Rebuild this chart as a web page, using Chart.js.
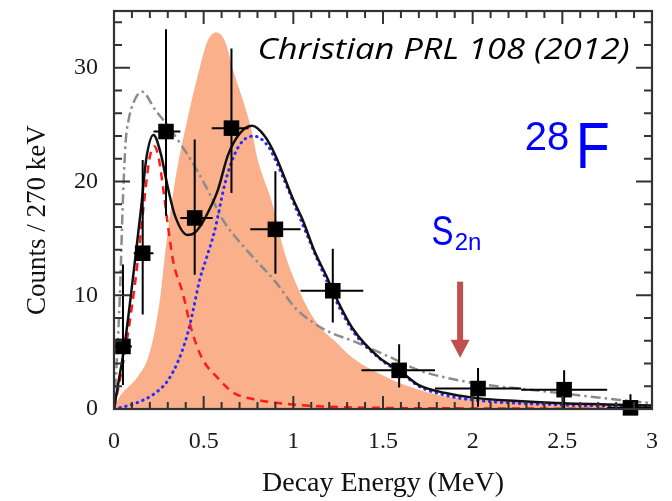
<!DOCTYPE html>
<html>
<head>
<meta charset="utf-8">
<title>28F decay energy</title>
<script src="https://cdn.jsdelivr.net/npm/chart.js@4.4.1/dist/chart.umd.min.js"></script>
<style>
  html, body { margin: 0; padding: 0; background: #fff; }
  #wrap { width: 672px; height: 501px; position: relative; }
</style>
</head>
<body>
<div id="wrap"><canvas id="decayChart" width="672" height="501"></canvas></div>
<script>
// tick labels
const xTicks = [0, 0.5, 1, 1.5, 2, 2.5, 3];
const yTicks = [0, 10, 20, 30];

// measured spectrum (bin centres, counts, error bars)
const pointX = [0.05, 0.16, 0.29, 0.45, 0.655, 0.90, 1.22, 1.59, 2.03, 2.51, 2.88];
const pointY = [5.5, 13.7, 24.4, 16.8, 24.7, 15.8, 10.4, 3.4, 1.8, 1.7, 0.1];
const errXLo = [0, 0.11, 0.22, 0.37, 0.545, 0.76, 1.04, 1.38, 1.79, 2.27, 2.75];
const errXHi = [0.10, 0.22, 0.37, 0.55, 0.75, 1.04, 1.39, 1.79, 2.27, 2.75, 3.0];
const errYLo = [2.1, 8.3, 17.0, 11.8, 19.0, 11.9, 7.6, 1.9, 0.2, 0.0, 0.0];
const errYHi = [12.7, 21.9, 33.4, 23.7, 31.7, 20.9, 14.1, 5.7, 3.6, 3.4, 1.3];

// total fit (black solid)
const totalX = [0, 0.02, 0.06, 0.11, 0.15, 0.18, 0.22, 0.26, 0.30, 0.34, 0.41, 0.45, 0.49, 0.54, 0.58, 0.635, 0.70, 0.77, 0.84, 0.90, 1.0, 1.05, 1.12, 1.19, 1.22, 1.33, 1.48, 1.59, 1.70, 1.85, 2.0, 2.25, 2.5, 2.75, 3.0];
const totalY = [0, 1.9, 5.7, 12.1, 17.5, 22.0, 24.1, 22.5, 19.5, 17.0, 15.3, 15.5, 16.3, 17.8, 19.3, 22.3, 24.2, 24.9, 24.0, 22.3, 18.4, 16.7, 13.8, 11.5, 10.4, 7.1, 4.5, 3.4, 2.1, 1.4, 1.0, 0.7, 0.5, 0.4, 0.3];

// low-energy resonance (red dashed)
const lowX = [0, 0.05, 0.10, 0.13, 0.18, 0.20, 0.225, 0.25, 0.27, 0.30, 0.33, 0.385, 0.43, 0.49, 0.58, 0.67, 0.80, 1.03, 1.2, 1.5, 2.0, 2.5, 3.0];
const lowY = [0, 4.0, 9.0, 12.7, 19.9, 22.2, 23.1, 22.0, 19.9, 16.2, 13.0, 10.1, 7.1, 4.5, 2.7, 1.4, 0.8, 0.35, 0.2, 0.1, 0.05, 0.03, 0.02];

// higher resonance (blue dotted)
const highX = [0, 0.12, 0.23, 0.30, 0.36, 0.41, 0.44, 0.48, 0.51, 0.56, 0.62, 0.67, 0.72, 0.78, 0.86, 0.90, 1.05, 1.2, 1.33, 1.5, 1.6, 1.7, 1.85, 2.0, 2.5, 3.0];
const highY = [0, 0.5, 1.4, 2.5, 4.3, 6.6, 8.6, 11.5, 13.0, 15.6, 19.9, 22.3, 23.6, 24.0, 23.1, 21.9, 16.3, 10.8, 6.9, 4.2, 3.2, 2.0, 1.2, 0.8, 0.35, 0.2];

// alternative fit (grey dash-dot)
const altX = [0, 0.015, 0.033, 0.05, 0.065, 0.08, 0.11, 0.157, 0.23, 0.30, 0.38, 0.47, 0.55, 0.60, 0.75, 0.90, 1.01, 1.12, 1.21, 1.33, 1.52, 1.70, 1.93, 2.08, 2.26, 2.54, 2.82, 3.0];
const altY = [0, 4.0, 10.1, 18.5, 23.5, 25.3, 27.0, 27.9, 26.3, 24.9, 23.1, 20.8, 18.4, 16.8, 13.8, 11.2, 8.9, 7.5, 6.7, 6.0, 4.7, 3.4, 2.5, 2.1, 1.8, 1.3, 0.8, 0.5];

// simulated distribution (orange fill)
const simX = [0, 0.02, 0.13, 0.19, 0.23, 0.26, 0.28, 0.34, 0.41, 0.47, 0.52, 0.57, 0.62, 0.67, 0.73, 0.77, 0.80, 0.88, 0.95, 1.03, 1.10, 1.16, 1.23, 1.33, 1.52, 1.70, 1.89, 2.0, 2.5, 3.0];
const simY = [0, 0.8, 2.8, 4.5, 7.1, 10.1, 13.0, 20.0, 25.5, 29.5, 32.3, 33.1, 32.3, 29.5, 26.6, 24.3, 22.0, 18.2, 13.8, 10.5, 8.3, 7.0, 6.0, 4.5, 2.8, 1.7, 1.0, 0.9, 0.5, 0.3];

// two-neutron separation energy marker (MeV)
const s2n = 1.93;

const toPoints = (xs, ys) => xs.map((x, i) => ({ x: x, y: ys[i] }));

const curveDefaults = {
  showLine: true,
  pointRadius: 0,
  pointHoverRadius: 0,
  cubicInterpolationMode: 'monotone',
  borderWidth: 2.5
};

// text squeezed/stretched to a given width, starting at (x0, base)
function fitText(ctx, text, x0, base, width) {
  const w = ctx.measureText(text).width;
  ctx.save();
  ctx.translate(x0, base);
  ctx.scale(width / w, 1);
  ctx.fillText(text, 0, 0);
  ctx.restore();
}

// error bars + inward ticks + frame
const decorPlugin = {
  id: 'decor',
  afterDatasetsDraw(chart) {
    const { ctx, chartArea: a, scales: { x, y } } = chart;
    ctx.save();
    ctx.strokeStyle = '#000';
    ctx.lineWidth = 2;
    ctx.beginPath();
    pointX.forEach((px, i) => {
      const cx = x.getPixelForValue(px);
      const cy = y.getPixelForValue(pointY[i]);
      ctx.moveTo(x.getPixelForValue(errXLo[i]), cy);
      ctx.lineTo(x.getPixelForValue(errXHi[i]), cy);
      ctx.moveTo(cx, y.getPixelForValue(errYLo[i]));
      ctx.lineTo(cx, y.getPixelForValue(errYHi[i]));
    });
    ctx.stroke();

    // tick marks pointing inward on all four sides
    ctx.strokeStyle = '#333';
    ctx.lineWidth = 2;
    ctx.beginPath();
    for (let k = 0; k <= 30; k++) {
      const px = x.getPixelForValue(k / 10);
      const len = k % 5 === 0 ? 13 : 7;
      ctx.moveTo(px, a.bottom); ctx.lineTo(px, a.bottom - len);
      ctx.moveTo(px, a.top); ctx.lineTo(px, a.top + len);
    }
    for (let v = 0; v <= 34; v += 2) {
      const py = y.getPixelForValue(v);
      const len = v % 10 === 0 ? 16 : 8;
      ctx.moveTo(a.left, py); ctx.lineTo(a.left + len, py);
      ctx.moveTo(a.right, py); ctx.lineTo(a.right - len, py);
    }
    ctx.stroke();
    ctx.lineWidth = 2.2;
    ctx.strokeRect(a.left, a.top, a.right - a.left, a.bottom - a.top);
    ctx.restore();
  },
  afterDraw(chart) {
    const { ctx, scales: { x, y } } = chart;
    ctx.save();
    ctx.textBaseline = 'alphabetic';

    // citation
    ctx.fillStyle = '#000';
    ctx.font = 'italic 30px "Open Sans"';
    const cx0 = x.getPixelForValue(0.80);
    fitText(ctx, 'Christian PRL 108 (2012)', cx0, y.getPixelForValue(30.8), x.getPixelForValue(2.875) - cx0);

    // nucleus label
    ctx.fillStyle = '#0000ff';
    ctx.font = '40px "Liberation Sans"';
    ctx.fillText('28', x.getPixelForValue(2.29), y.getPixelForValue(22.8));
    ctx.font = '64px "Liberation Sans"';
    fitText(ctx, 'F', x.getPixelForValue(2.575), y.getPixelForValue(21.2), 34);

    // S2n label
    ctx.font = '42px "Liberation Sans"';
    fitText(ctx, 'S', x.getPixelForValue(1.77), y.getPixelForValue(14.4), 22);
    ctx.font = '24px "Liberation Sans"';
    ctx.fillText('2n', x.getPixelForValue(1.9), y.getPixelForValue(14.0));

    // arrow
    const ax = x.getPixelForValue(s2n);
    const yTop = y.getPixelForValue(11.2);
    const yBase = y.getPixelForValue(6.1);
    const yTip = y.getPixelForValue(4.5);
    ctx.fillStyle = '#c0504d';
    ctx.fillRect(ax - 3, yTop, 6, yBase - yTop + 1);
    ctx.beginPath();
    ctx.moveTo(ax - 9.5, yBase);
    ctx.lineTo(ax + 9.5, yBase);
    ctx.lineTo(ax, yTip);
    ctx.closePath();
    ctx.fill();
    ctx.restore();
  }
};

const ctx = document.getElementById('decayChart');
new Chart(ctx, {
  type: 'scatter',
  data: {
    datasets: [
      {
        label: 'data',
        data: toPoints(pointX, pointY),
        pointStyle: 'rect',
        pointRadius: 11,
        pointHoverRadius: 11,
        backgroundColor: '#000',
        borderColor: '#000',
        borderWidth: 0,
        clip: false,
        order: 0
      },
      Object.assign({}, curveDefaults, {
        label: 'total',
        data: toPoints(totalX, totalY),
        borderColor: '#111',
        order: 1
      }),
      Object.assign({}, curveDefaults, {
        label: 'low',
        data: toPoints(lowX, lowY),
        borderColor: '#ff1a1a',
        borderDash: [8, 6],
        order: 2
      }),
      Object.assign({}, curveDefaults, {
        label: 'high',
        data: toPoints(highX, highY),
        borderColor: '#2b2bff',
        borderDash: [0.5, 5.5],
        borderCapStyle: 'round',
        borderWidth: 3,
        order: 3
      }),
      Object.assign({}, curveDefaults, {
        label: 'alt',
        data: toPoints(altX, altY),
        borderColor: '#8c8c8c',
        borderDash: [10, 4, 2.5, 4],
        order: 4
      }),
      Object.assign({}, curveDefaults, {
        label: 'sim',
        data: toPoints(simX, simY),
        borderWidth: 0,
        borderColor: 'rgba(0,0,0,0)',
        backgroundColor: '#f9b08b',
        fill: 'origin',
        order: 5
      })
    ]
  },
  options: {
    responsive: false,
    animation: false,
    events: [],
    layout: { padding: { top: 6, right: 20, left: 0, bottom: 0 } },
    plugins: {
      legend: { display: false },
      tooltip: { enabled: false }
    },
    scales: {
      x: {
        type: 'linear',
        min: 0,
        max: 3,
        grid: { display: false, drawTicks: false },
        border: { display: false },
        afterFit: s => { s.height = 92; s.paddingLeft = 0; s.paddingRight = 0; },
        afterBuildTicks: s => { s.ticks = xTicks.map(v => ({ value: v })); },
        ticks: {
          color: '#1a1a1a',
          padding: 18,
          font: { family: '"Liberation Serif"', size: 24 },
          maxRotation: 0,
          autoSkip: false,
          callback: v => String(v)
        },
        title: {
          display: true,
          text: 'Decay Energy (MeV)',
          color: '#111',
          font: { family: '"Liberation Serif"', size: 28 },
          padding: { top: 0, bottom: 1 }
        }
      },
      y: {
        type: 'linear',
        min: 0,
        max: 35,
        grid: { display: false, drawTicks: false },
        border: { display: false },
        afterFit: s => { s.width = 114; s.paddingTop = 0; s.paddingBottom = 0; },
        afterBuildTicks: s => { s.ticks = yTicks.map(v => ({ value: v })); },
        ticks: {
          color: '#1a1a1a',
          padding: 16,
          font: { family: '"Liberation Serif"', size: 24 },
          autoSkip: false,
          callback: v => String(v)
        },
        title: {
          display: true,
          // trailing spaces nudge the rotated title a little lower, as in the original
          text: 'Counts / 270 keV   ',
          color: '#111',
          font: { family: '"Liberation Serif"', size: 27 },
          padding: { top: 22, bottom: 0 }
        }
      }
    }
  },
  plugins: [decorPlugin]
});
</script>
</body>
</html>
